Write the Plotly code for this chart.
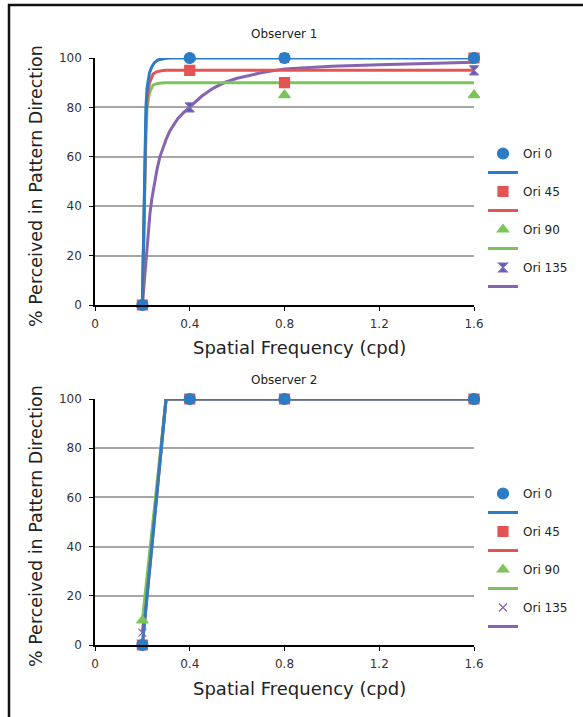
import plotly.graph_objects as go

# ---------------- data ----------------
series_names = ["Ori 0", "Ori 45", "Ori 90", "Ori 135"]
freq = [0.2, 0.4, 0.8, 1.6]

# Observer 1 measured values
obs1_ori0 = [0, 100, 100, 100]
obs1_ori45 = [0, 95, 90, 100]
obs1_ori90 = [0, 100, 85, 85]
obs1_ori135 = [0, 80, 100, 95]

# Observer 1 fitted curves
fit1_ori0_x = [0.2, 0.205, 0.21, 0.215, 0.22, 0.23, 0.24, 0.25, 0.265, 0.28, 0.3, 0.32, 1.6]
fit1_ori0_y = [0, 30, 60, 80, 88, 94, 96.5, 98, 99.2, 99.6, 99.9, 100, 100]
fit1_ori45_x = [0.2, 0.205, 0.21, 0.215, 0.22, 0.23, 0.245, 0.26, 0.28, 0.3, 1.6]
fit1_ori45_y = [0, 28, 55, 74, 84, 90, 93.5, 94.4, 94.8, 95, 95]
fit1_ori90_x = [0.2, 0.205, 0.21, 0.215, 0.22, 0.23, 0.245, 0.26, 0.28, 0.3, 1.6]
fit1_ori90_y = [0, 27, 52, 70, 80, 86, 89, 89.6, 89.9, 90, 90]
fit1_ori135_x = [0.2, 0.205, 0.21, 0.215, 0.22, 0.226, 0.232, 0.24, 0.25, 0.262, 0.274, 0.29, 0.3, 0.316,
                 0.335, 0.35, 0.375, 0.4, 0.45, 0.5, 0.55, 0.6, 0.7, 0.8, 0.9, 1.0, 1.2, 1.4, 1.6]
fit1_ori135_y = [0, 6, 12, 18, 24, 31, 37, 43, 49, 55, 60, 64.5, 67, 70.5,
                 73.5, 75.5, 78, 80.3, 84.5, 87.8, 90.2, 91.8, 94, 95.6, 96.2, 96.7, 97.3, 97.9, 98.3]

# Observer 2 measured values
obs2_ori0 = [0, 100, 100, 100]
obs2_ori45 = [0, 100, 100, 100]
obs2_ori90 = [10, 100, 100, 100]
obs2_ori135 = [5, 100, 100, 100]

# Observer 2 fitted lines
fit2_x = [0.2, 0.3, 1.6]
fit2_ori0_y = [0, 100, 100]
fit2_ori45_y = [0, 100, 100]
fit2_ori90_y = [10, 100, 100]
fit2_ori135_y = [5, 100, 100]

x_ticks = [0, 0.4, 0.8, 1.2, 1.6]
x_tick_text = ["0", "0.4", "0.8", "1.2", "1.6"]
y_ticks = [0, 20, 40, 60, 80, 100]

# ---------------- style ----------------
W, H = 583, 717
FONT = "DejaVu Sans"
colors = ["#2a7cc5", "#e35555", "#7cc45a", "#8664b0"]

def px_x(p):
    return p / W

def px_y(p):
    return 1 - p / H

X0, X1 = 95, 474
TOP = (58, 305)
BOT = (399, 645)

fig = go.Figure()

def add_panel(xa, ya, legend, fits, obs, symbols, sym_colors, sym_lines, sizes):
    # fitted lines first (behind markers), first series drawn last
    for i in reversed(range(4)):
        fx, fy = fits[i]
        fig.add_trace(go.Scatter(
            x=fx, y=fy, mode="lines", name="", showlegend=True,
            line=dict(color=colors[i], width=3), xaxis=xa, yaxis=ya,
            legend=legend, legendrank=2 * i + 2, hoverinfo="skip", cliponaxis=False))
    for i in reversed(range(4)):
        fig.add_trace(go.Scatter(
            x=freq, y=obs[i], mode="markers", name=series_names[i],
            marker=dict(symbol=symbols[i], size=sizes[i], color=sym_colors[i],
                        line=dict(color=sym_lines[i], width=1.2)),
            xaxis=xa, yaxis=ya, legend=legend, legendrank=2 * i + 1, cliponaxis=False))

add_panel("x", "y", "legend",
          [(fit1_ori0_x, fit1_ori0_y), (fit1_ori45_x, fit1_ori45_y),
           (fit1_ori90_x, fit1_ori90_y), (fit1_ori135_x, fit1_ori135_y)],
          [obs1_ori0, obs1_ori45, obs1_ori90, obs1_ori135],
          ["circle", "square", "triangle-up", "hourglass"],
          [colors[0], colors[1], colors[2], "#4a64c4"],
          [colors[0], colors[1], colors[2], colors[3]],
          [11, 10, 10, 9])

add_panel("x2", "y2", "legend2",
          [(fit2_x, fit2_ori0_y), (fit2_x, fit2_ori45_y),
           (fit2_x, fit2_ori90_y), (fit2_x, fit2_ori135_y)],
          [obs2_ori0, obs2_ori45, obs2_ori90, obs2_ori135],
          ["circle", "square", "triangle-up", "x-thin-open"],
          colors, colors, [11, 10, 10, 8])

xaxis_common = dict(range=[0, 1.6], tickvals=x_ticks, ticktext=x_tick_text,
                    showline=True, linecolor="black", linewidth=1.5,
                    ticks="outside", ticklen=4, tickcolor="black", showgrid=False,
                    zeroline=False, tickfont=dict(family=FONT, size=12, color="#333"),
                    ticklabelstandoff=3, fixedrange=True)
yaxis_common = dict(range=[0, 100], tickvals=y_ticks, showline=True, linecolor="black",
                    linewidth=1.5, ticks="outside", ticklen=4, tickcolor="black",
                    showgrid=True, gridcolor="#a6a6a6", gridwidth=1.5, zeroline=False,
                    tickfont=dict(family=FONT, size=12, color="#333"),
                    ticklabelstandoff=5, fixedrange=True)

legend_common = dict(font=dict(family=FONT, size=12, color="#222"), bgcolor="rgba(0,0,0,0)",
                     tracegroupgap=0, itemwidth=30, traceorder="normal",
                     xanchor="left", yanchor="top")

fig.update_layout(
    width=W, height=H,
    margin=dict(l=0, r=0, t=0, b=0, pad=0, autoexpand=False),
    paper_bgcolor="white", plot_bgcolor="white",
    font=dict(family=FONT, color="#222"),
    xaxis=dict(domain=[px_x(X0), px_x(X1)], anchor="y", **xaxis_common),
    yaxis=dict(domain=[px_y(TOP[1]), px_y(TOP[0])], anchor="x", **yaxis_common),
    xaxis2=dict(domain=[px_x(X0), px_x(X1)], anchor="y2", **xaxis_common),
    yaxis2=dict(domain=[px_y(BOT[1]), px_y(BOT[0])], anchor="x2", **yaxis_common),
    legend=dict(x=px_x(483), y=px_y(139), **legend_common),
    legend2=dict(x=px_x(483), y=px_y(479), **legend_common),
    showlegend=True,
)

ann = []
for title, yc in [("Observer 1", 34), ("Observer 2", 380)]:
    ann.append(dict(text=title, x=px_x((X0 + X1) / 2), y=px_y(yc), xref="paper", yref="paper",
                    showarrow=False, font=dict(family=FONT, size=12, color="#222"),
                    xanchor="center", yanchor="middle"))
for yc in [348, 688]:
    ann.append(dict(text="Spatial Frequency (cpd)", x=px_x((X0 + X1) / 2 + 15), y=px_y(yc),
                    xref="paper", yref="paper", showarrow=False,
                    font=dict(family=FONT, size=18, color="#222"),
                    xanchor="center", yanchor="middle"))
for yc in [186, 526]:
    ann.append(dict(text="% Perceived in Pattern Direction", x=px_x(36), y=px_y(yc),
                    xref="paper", yref="paper", showarrow=False, textangle=-90,
                    font=dict(family=FONT, size=17.5, color="#222"),
                    xanchor="center", yanchor="middle"))
fig.update_layout(annotations=ann)

# outer frame
fig.add_shape(type="rect", xref="paper", yref="paper",
              x0=px_x(9), x1=px_x(W + 20), y0=px_y(H + 20), y1=px_y(5),
              line=dict(color="#111", width=2.5), fillcolor="rgba(0,0,0,0)", layer="above")

fig.write_html("out.html", config={"displayModeBar": False},
               post_script="document.body.style.margin='0';document.body.style.overflow='hidden';")
